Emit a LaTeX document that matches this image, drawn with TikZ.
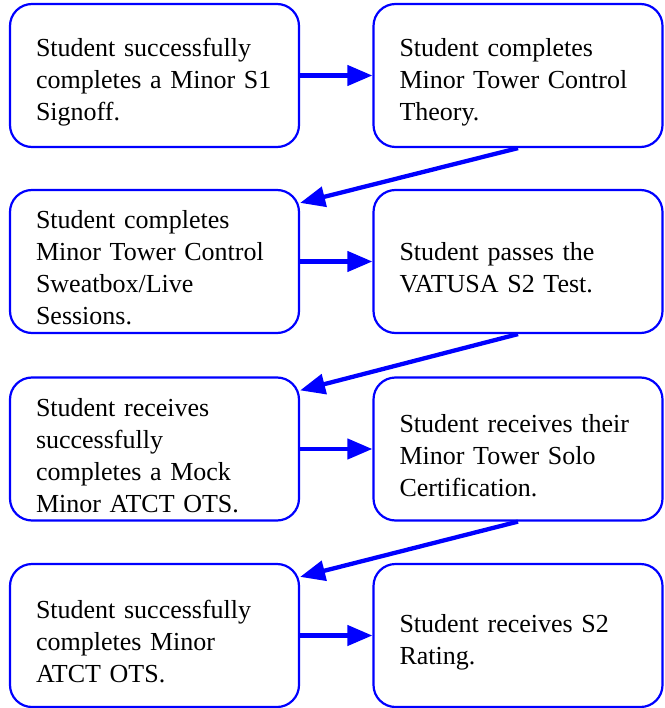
\documentclass[tikz,border=0pt]{standalone}
\usepackage{fontspec}
\setmainfont{Liberation Serif}
\usetikzlibrary{arrows.meta,positioning}

\tikzset{
  card/.style={draw=blue,line width=2.2pt,rounded corners=22pt,minimum width=289pt,minimum height=143pt,
    text width=237pt,inner xsep=26pt,inner ysep=0pt,align=left,font=\fontsize{26}{32}\selectfont,
    execute at begin node={\rule{0pt}{31pt}}},
  link/.style={draw=blue,line width=4.3pt,-{Triangle[length=25pt,width=20pt]}}
}

\begin{document}
\begin{tikzpicture}[x=1pt,y=-1pt]
\useasboundingbox (0,0) rectangle (664,708);

\node[card] (s1) at (154.5,75.5) {Student successfully\\completes a Minor S1\\Signoff.};
\node[card] (s2) at (518,75.5) {Student completes\\Minor Tower Control\\Theory.};
\node[card] (s3) at (154.5,261.5) {Student completes\\Minor Tower Control\\Sweatbox/Live\\Sessions.};
\node[card] (s4) at (518,261.5) {Student passes the\\VATUSA S2 Test.};
\node[card] (s5) at (154.5,449) {Student receives\\successfully\\completes a Mock\\Minor ATCT OTS.};
\node[card] (s6) at (518,449) {Student receives their\\Minor Tower Solo\\Certification.};
\node[card] (s7) at (154.5,635.5) {Student successfully\\completes Minor\\ATCT OTS.};
\node[card] (s8) at (518,635.5) {Student receives S2\\Rating.};

% across each row
\foreach \a/\b in {s1/s2,s3/s4,s5/s6,s7/s8}
  \draw[link] (\a.east) -- (\b.west);

% back to the next row
\foreach \a/\b in {s2/s3,s4/s5,s6/s7}
  \draw[link] (\a.south) -- ([yshift=-14pt]\b.north east);
\end{tikzpicture}
\end{document}
